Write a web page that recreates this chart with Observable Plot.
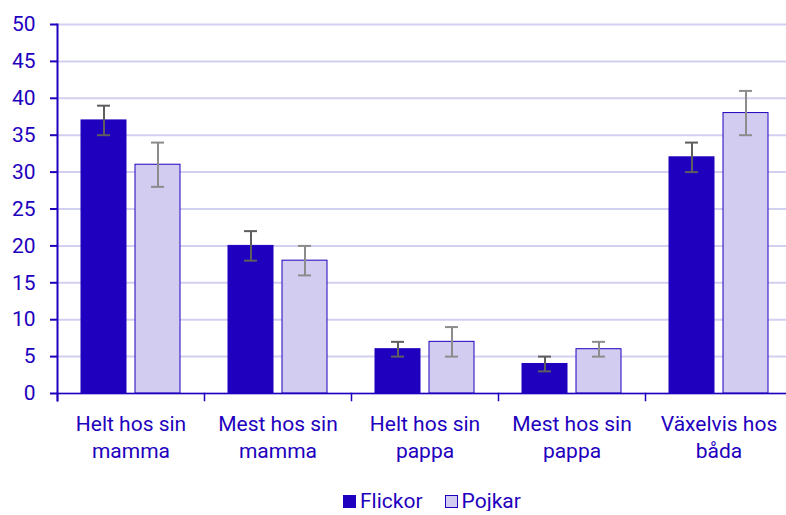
<!DOCTYPE html>
<html>
<head>
<meta charset="utf-8">
<script src="https://cdn.jsdelivr.net/npm/d3@7"></script>
<script src="https://cdn.jsdelivr.net/npm/@observablehq/plot@0.6"></script>
<style>
  html, body { margin: 0; background: white; font-family: Roboto, sans-serif; overflow: hidden; }
  #chart svg { max-width: none !important; display: block; }
  #legend { display: flex; align-items: center; margin-left: 343px; margin-top: 16px; height: 20px; line-height: 20px; color: #1e00be; font-size: 21px; }
  .sw { width: 13px; height: 13px; box-sizing: border-box; margin-right: 4px; }
  .item { display: flex; align-items: center; margin-right: 22px; }
</style>
</head>
<body>
<div id="chart"></div>
<div id="legend"></div>
<script>
const categories = ["Helt hos sin mamma", "Mest hos sin mamma", "Helt hos sin pappa", "Mest hos sin pappa", "Växelvis hos båda"];
const series = ["Flickor", "Pojkar"];
const flickor = [37, 20, 6, 4, 32];
const flickorLo = [35, 18, 5, 3, 30];
const flickorHi = [39, 22, 7, 5, 34];
const pojkar = [31, 18, 7, 6, 38];
const pojkarLo = [28, 16, 5, 5, 35];
const pojkarHi = [34, 20, 9, 7, 41];
const yTicks = [0, 5, 10, 15, 20, 25, 30, 35, 40, 45, 50];

const ink = "#1e00be";
const colors = {Flickor: "#1e00be", Pojkar: "#d2cdf0"};
const errColors = {Flickor: "#5e5e5e", Pojkar: "#8c8c8c"};

const data = [];
categories.forEach((c, i) => {
  data.push({cat: c, series: "Flickor", value: flickor[i], lo: flickorLo[i], hi: flickorHi[i]});
  data.push({cat: c, series: "Pojkar", value: pojkar[i], lo: pojkarLo[i], hi: pojkarHi[i]});
});
const fmt = d => d.replace(/ (\S+)$/, "\n$1");

const chart = Plot.plot({
  width: 792,
  height: 475,
  marginTop: 24,
  marginBottom: 82,
  marginLeft: 56,
  marginRight: 0,
  style: {fontFamily: "Roboto", fontSize: "21px", color: ink, background: "white", maxWidth: "none"},
  fx: {domain: categories, padding: 0, label: null},
  x: {domain: series, paddingInner: 0.16, paddingOuter: 0.44, align: 0.5, axis: null},
  y: {domain: [0, 50], label: null},
  color: {domain: series, range: series.map(s => colors[s])},
  marks: [
    Plot.gridY(yTicks, {stroke: "#d2d0f0", strokeOpacity: 1, strokeWidth: 2}),
    Plot.barY(data, {fx: "cat", x: "series", y: "value", fill: "series", stroke: ink, strokeWidth: 1}),
    ...series.map(s => Plot.ruleX(data.filter(d => d.series === s), {fx: "cat", x: "series", y1: "lo", y2: "hi", stroke: errColors[s], strokeWidth: 2})),
    ...series.map(s => Plot.tickY(data.filter(d => d.series === s), {fx: "cat", x: "series", y: "lo", stroke: errColors[s], strokeWidth: 2, insetLeft: 16, insetRight: 16})),
    ...series.map(s => Plot.tickY(data.filter(d => d.series === s), {fx: "cat", x: "series", y: "hi", stroke: errColors[s], strokeWidth: 2, insetLeft: 16, insetRight: 16})),
    Plot.ruleY([0], {stroke: ink, strokeWidth: 1.5}),
    Plot.frame({anchor: "left", stroke: ink, strokeWidth: 1.5, insetTop: 369, insetBottom: -7}),
    Plot.frame({anchor: "left", stroke: ink, strokeWidth: 2, insetBottom: -7, facetAnchor: "left"}),
    Plot.axisY(yTicks, {tickSize: 7, tickPadding: 15, label: null, color: ink, strokeWidth: 2}),
    Plot.axisFx({anchor: "bottom", tickSize: 0, tickPadding: 18, tickFormat: fmt, lineHeight: 1.3, label: null, color: ink})
  ]
});
document.getElementById("chart").appendChild(chart);

const legend = document.getElementById("legend");
series.forEach(s => {
  const item = document.createElement("div");
  item.className = "item";
  const sw = document.createElement("div");
  sw.className = "sw";
  sw.style.background = colors[s];
  sw.style.border = "1px solid " + ink;
  const t = document.createElement("span");
  t.textContent = s;
  item.appendChild(sw);
  item.appendChild(t);
  legend.appendChild(item);
});
</script>
</body>
</html>
